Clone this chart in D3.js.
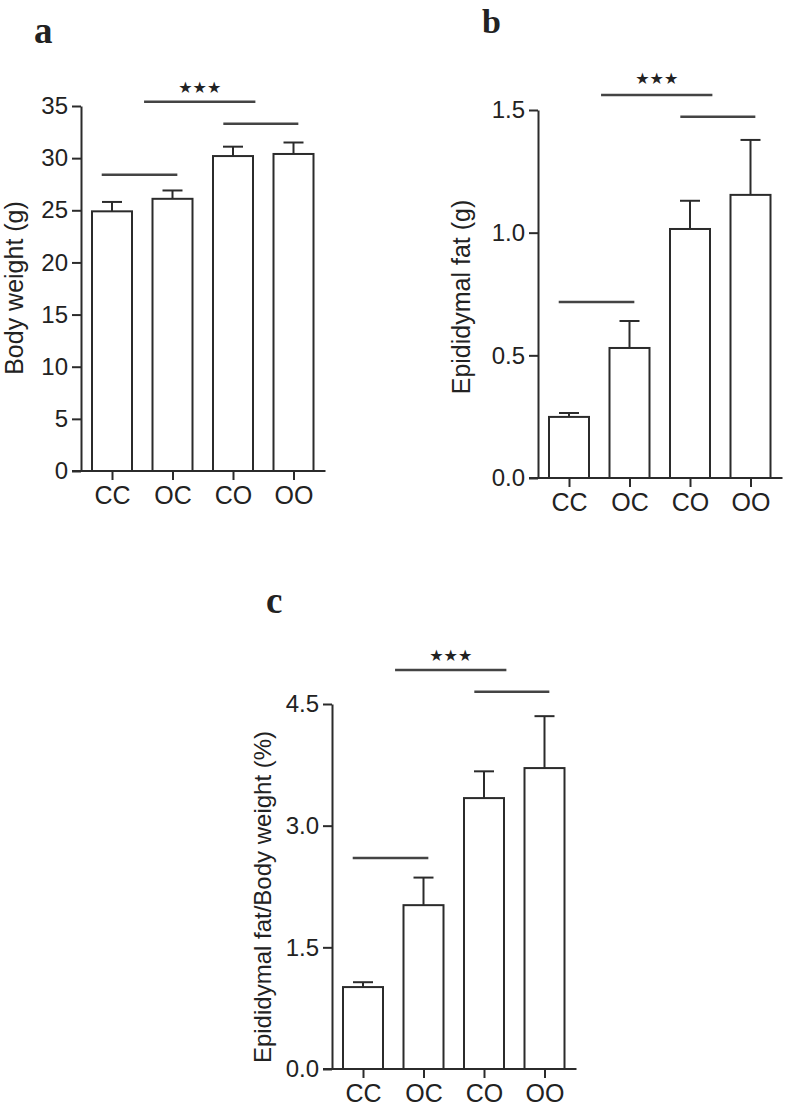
<!DOCTYPE html>
<html lang='en'>
	<head>
		<meta charset='utf-8'>
		<title>Body weight and epididymal fat</title>
		<script src="https://d3js.org/d3.v7.min.js"></script>
		<style>
			body { margin: 0; background: #fff; }
			svg text { font-family: 'Liberation Sans', Arial, sans-serif; fill: #222; }
			.panel-label { font-family: 'Liberation Serif', 'Times New Roman', serif !important; font-weight: bold; }
		</style>
	</head>
	<body>
		<div id="chart"></div>
		<script>
			// groups and values (mean, SEM)
			var groups = ['CC', 'OC', 'CO', 'OO'];

			var bodyWeight = [24.9, 26.1, 30.2, 30.4];
			var bodyWeightSem = [0.9, 0.8, 0.9, 1.1];
			var bodyWeightTicks = [0, 5, 10, 15, 20, 25, 30, 35];

			var fatWeight = [0.249, 0.53, 1.015, 1.154];
			var fatWeightSem = [0.016, 0.11, 0.115, 0.224];
			var fatWeightTicks = [0, 0.5, 1.0, 1.5];

			var fatRatio = [1.01, 2.02, 3.34, 3.71];
			var fatRatioSem = [0.06, 0.34, 0.33, 0.64];
			var fatRatioTicks = [0, 1.5, 3.0, 4.5];

			// significance bars: span in group-index units, height in data units
			var sigSpans = [[-0.17, 1.08], [0.53, 2.37], [1.84, 3.08]];
			var sigLevelsA = [28.4, 35.4, 33.3];
			var sigLevelsB = [0.717, 1.561, 1.472];
			var sigLevelsC = [2.60, 4.92, 4.65];
			var starLevels = [36.8, 1.63, 5.10];
			var starText = '★★★';

			var width = 787, height = 1108;
			var svg = d3.select('#chart').append('svg')
				.attr('width', width)
				.attr('height', height);

			var stroke = '#2b2b2b';

			function drawPanel(opt) {
				var g = svg.append('g');
				var step = 60.5, barWidth = 40;

				var x = d3.scalePoint()
					.domain(groups)
					.range([opt.axisX + 31, opt.axisX + 31 + 3 * step]);
				var xi = d3.scaleLinear()
					.domain([0, 3])
					.range([opt.axisX + 31, opt.axisX + 31 + 3 * step]);
				var y = d3.scaleLinear()
					.domain([0, d3.max(opt.ticks)])
					.range([opt.y0, opt.yTop]);

				// bars
				g.selectAll('rect.bar')
					.data(opt.values)
					.enter()
					.append('rect')
					.attr('class', 'bar')
					.attr('x', function(d, i) { return x(groups[i]) - barWidth / 2; })
					.attr('y', function(d) { return y(d); })
					.attr('width', barWidth)
					.attr('height', function(d) { return y(0) - y(d); })
					.attr('fill', '#fff')
					.attr('stroke', stroke)
					.attr('stroke-width', 2);

				// error bars (upper only)
				g.selectAll('line.err')
					.data(opt.values)
					.enter()
					.append('line')
					.attr('class', 'err')
					.attr('x1', function(d, i) { return x(groups[i]); })
					.attr('x2', function(d, i) { return x(groups[i]); })
					.attr('y1', function(d) { return y(d); })
					.attr('y2', function(d, i) { return y(d + opt.sem[i]); })
					.attr('stroke', stroke)
					.attr('stroke-width', 2);
				g.selectAll('line.cap')
					.data(opt.values)
					.enter()
					.append('line')
					.attr('class', 'cap')
					.attr('x1', function(d, i) { return x(groups[i]) - 10; })
					.attr('x2', function(d, i) { return x(groups[i]) + 10; })
					.attr('y1', function(d, i) { return y(d + opt.sem[i]); })
					.attr('y2', function(d, i) { return y(d + opt.sem[i]); })
					.attr('stroke', stroke)
					.attr('stroke-width', 2);

				// y axis
				var yAxis = g.append('g')
					.attr('transform', 'translate(' + opt.axisX + ',0)')
					.call(d3.axisLeft(y)
						.tickValues(opt.ticks)
						.tickFormat(opt.format)
						.tickSize(9)
						.tickSizeOuter(0)
						.tickPadding(4));

				// x axis
				var xAxis = g.append('g')
					.attr('transform', 'translate(0,' + opt.y0 + ')')
					.call(d3.axisBottom(x)
						.tickSize(9)
						.tickSizeOuter(0)
						.tickPadding(6));
				xAxis.select('.domain')
					.attr('d', 'M' + (opt.axisX - 9) + ',0H' + (x(groups[3]) + 32));

				[yAxis, xAxis].forEach(function(ax) {
					ax.select('.domain').attr('stroke', stroke).attr('stroke-width', 2);
					ax.selectAll('.tick line').attr('stroke', stroke).attr('stroke-width', 2);
				});
				yAxis.selectAll('.tick text')
					.style('font-size', '24px')
					.attr('fill', '#222');
				xAxis.selectAll('.tick text')
					.style('font-size', '25px')
					.attr('fill', '#222');

				// y label
				g.append('text')
					.attr('transform', 'translate(' + opt.labelX + ',' + opt.labelY + ') rotate(-90)')
					.attr('text-anchor', 'middle')
					.attr('dominant-baseline', 'central')
					.style('font-size', opt.labelSize + 'px')
					.text(opt.label);

				// significance lines
				g.selectAll('line.sig')
					.data(opt.sig)
					.enter()
					.append('line')
					.attr('class', 'sig')
					.attr('x1', function(d, i) { return xi(sigSpans[i][0]); })
					.attr('x2', function(d, i) { return xi(sigSpans[i][1]); })
					.attr('y1', function(d) { return y(d); })
					.attr('y2', function(d) { return y(d); })
					.attr('stroke', '#444')
					.attr('stroke-width', 2.5);

				g.append('text')
					.attr('x', xi((sigSpans[1][0] + sigSpans[1][1]) / 2))
					.attr('y', y(opt.star))
					.attr('text-anchor', 'middle')
					.attr('dominant-baseline', 'central')
					.style('font-family', 'DejaVu Sans, sans-serif')
					.style('font-size', '16px')
					.text(starText);

				// panel letter
				g.append('text')
					.attr('class', 'panel-label')
					.attr('x', opt.letterX)
					.attr('y', opt.letterY)
					.style('font-size', opt.letterSize + 'px')
					.text(opt.letter);
			}

			drawPanel({
				values: bodyWeight, sem: bodyWeightSem, ticks: bodyWeightTicks,
				format: d3.format('d'), sig: sigLevelsA, star: starLevels[0],
				axisX: 81, y0: 471, yTop: 106,
				label: 'Body weight (g)', labelX: 14, labelY: 288, labelSize: 25,
				letter: 'a', letterX: 34, letterY: 43, letterSize: 37
			});

			drawPanel({
				values: fatWeight, sem: fatWeightSem, ticks: fatWeightTicks,
				format: d3.format('.1f'), sig: sigLevelsB, star: starLevels[1],
				axisX: 538, y0: 478, yTop: 110,
				label: 'Epididymal fat (g)', labelX: 461, labelY: 297, labelSize: 25,
				letter: 'b', letterX: 482, letterY: 33, letterSize: 34
			});

			drawPanel({
				values: fatRatio, sem: fatRatioSem, ticks: fatRatioTicks,
				format: d3.format('.1f'), sig: sigLevelsC, star: starLevels[2],
				axisX: 332, y0: 1069, yTop: 704,
				label: 'Epididymal fat/Body weight (%)', labelX: 262, labelY: 897, labelSize: 24,
				letter: 'c', letterX: 266, letterY: 613, letterSize: 37
			});
		</script>
	</body>
</html>
